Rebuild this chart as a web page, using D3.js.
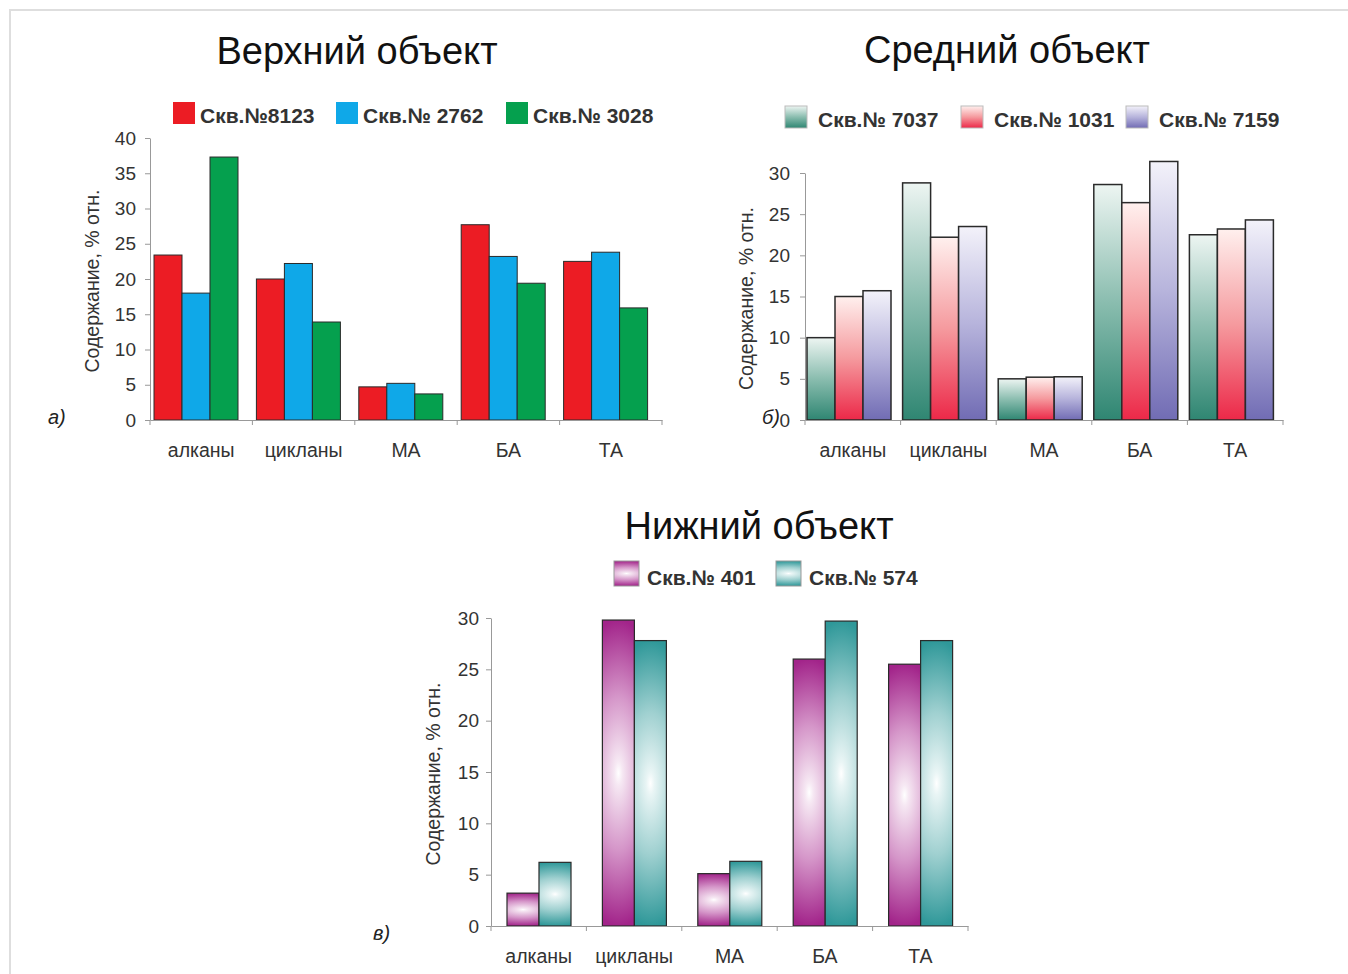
<!DOCTYPE html>
<html>
<head>
<meta charset="utf-8">
<script src="https://cdn.jsdelivr.net/npm/d3@7"></script>
<style>
  body { margin: 0; background: #fff; }
  svg text { font-family: "Liberation Sans", Arial, sans-serif; }
</style>
</head>
<body>
<svg id="chart" width="1348" height="974"></svg>
<script>
// categories shared by all three charts
const categories = ["алканы", "цикланы", "МА", "БА", "ТА"];

// upper object
const upperWells = ["Скв.№8123", "Скв.№ 2762", "Скв.№ 3028"];
const upper8123 = [23.4, 20.0, 4.7, 27.7, 22.5];
const upper2762 = [18.0, 22.2, 5.2, 23.2, 23.8];
const upper3028 = [37.3, 13.9, 3.7, 19.4, 15.9];
const upperTicks = [0, 5, 10, 15, 20, 25, 30, 35, 40];

// middle object
const middleWells = ["Скв.№ 7037", "Скв.№ 1031", "Скв.№ 7159"];
const middle7037 = [10.0, 28.8, 5.0, 28.6, 22.5];
const middle1031 = [15.0, 22.2, 5.2, 26.4, 23.2];
const middle7159 = [15.7, 23.5, 5.25, 31.4, 24.3];
const middleTicks = [0, 5, 10, 15, 20, 25, 30];

// lower object
const lowerWells = ["Скв.№ 401", "Скв.№ 574"];
const lower401 = [3.2, 29.8, 5.1, 26.0, 25.5];
const lower574 = [6.2, 27.8, 6.3, 29.7, 27.8];
const lowerTicks = [0, 5, 10, 15, 20, 25, 30];

const yLabel = "Содержание, % отн.";

const svg = d3.select("#chart");
const defs = svg.append("defs");

// page frame
svg.append("path")
  .attr("d", "M10,974 V10 H1348")
  .attr("fill", "none")
  .attr("stroke", "#dedede")
  .attr("stroke-width", 2);

// gradients for the middle chart (light top, dark bottom)
function linearGrad(id, top, mid, bottom){
  const g = defs.append("linearGradient").attr("id", id)
    .attr("x1", 0).attr("y1", 0).attr("x2", 0).attr("y2", 1);
  g.append("stop").attr("offset", "0%").attr("stop-color", top);
  g.append("stop").attr("offset", "50%").attr("stop-color", mid);
  g.append("stop").attr("offset", "100%").attr("stop-color", bottom);
  return "url(#" + id + ")";
}
// gradients for the lower chart (white glow in the middle, dark top and bottom)
function glowGrad(id, edge, mid, light){
  const g = defs.append("radialGradient").attr("id", id)
    .attr("cx", 0.5).attr("cy", 0.5).attr("r", 0.5)
    .attr("gradientTransform", "translate(0.5,0.5) scale(3.2,1) translate(-0.5,-0.5)");
  g.append("stop").attr("offset", "0%").attr("stop-color", "#ffffff");
  g.append("stop").attr("offset", "8%").attr("stop-color", light);
  g.append("stop").attr("offset", "50%").attr("stop-color", mid);
  g.append("stop").attr("offset", "100%").attr("stop-color", edge);
  return "url(#" + id + ")";
}

const charts = [
  {
    title: "Верхний объект", titleX: 357, titleY: 64,
    wells: upperWells, series: [upper8123, upper2762, upper3028],
    fills: ["#ec1c24", "#0fa8e8", "#05a04e"],
    stroke: "#2a2a2a", strokeWidth: 1,
    legendX: [173, 336, 506], legendY: 102, legendSize: 22, legendGap: 27, legendStroke: "none",
    ticks: upperTicks, domain: [0, 40],
    xRange: [150, 662], yRange: [420, 138],
    groupOffset: 4, groupWidth: 84,
    tickPad: 9, yLabelX: 99,
    mark: "а)", markX: 48, markY: 424
  },
  {
    title: "Средний объект", titleX: 1007, titleY: 63,
    wells: middleWells, series: [middle7037, middle1031, middle7159],
    fills: [linearGrad("gGreen", "#edf5f2", "#8abdaf", "#2f8672"),
            linearGrad("gRed", "#fff0ee", "#f59a9e", "#ec2848"),
            linearGrad("gPurple", "#f3f2fa", "#b7b4dc", "#716cb4")],
    stroke: "#2a2a2a", strokeWidth: 1.5,
    legendX: [785, 961, 1126], legendY: 106, legendSize: 22, legendGap: 33, legendStroke: "#bbb",
    ticks: middleTicks, domain: [0, 30],
    xRange: [805, 1283], yRange: [420, 173],
    groupOffset: 2, groupWidth: 84,
    tickPad: 10, yLabelX: 753,
    mark: "б)", markX: 762, markY: 424
  },
  {
    title: "Нижний объект", titleX: 759, titleY: 539,
    wells: lowerWells, series: [lower401, lower574],
    fills: [glowGrad("gMagenta", "#a2248a", "#d596c9", "#f6e8f3"),
            glowGrad("gTeal", "#2f9899", "#9fd0d0", "#e9f5f5")],
    stroke: "#2a2a2a", strokeWidth: 1.2,
    legendX: [614, 776], legendY: 561, legendSize: 25, legendGap: 33, legendStroke: "#999",
    ticks: lowerTicks, domain: [0, 30],
    xRange: [491, 968], yRange: [926, 618],
    groupOffset: 16, groupWidth: 64,
    tickPad: 7, yLabelX: 440,
    mark: "в)", markX: 373, markY: 940
  }
];

charts.forEach(drawChart);

function drawChart(c){
  const g = svg.append("g");

  const x0 = d3.scaleBand().domain(categories).range(c.xRange).padding(0);
  const x1 = d3.scaleBand().domain(c.wells)
    .range([c.groupOffset, c.groupOffset + c.groupWidth]).padding(0);
  const y = d3.scaleLinear().domain(c.domain).range(c.yRange);

  // title
  g.append("text")
    .attr("x", c.titleX).attr("y", c.titleY)
    .attr("text-anchor", "middle")
    .attr("font-size", 38)
    .attr("fill", "#111")
    .text(c.title);

  // legend
  c.wells.forEach((w, i) => {
    g.append("rect")
      .attr("x", c.legendX[i]).attr("y", c.legendY)
      .attr("width", c.legendSize).attr("height", c.legendSize)
      .attr("fill", c.fills[i])
      .attr("stroke", c.legendStroke);
    g.append("text")
      .attr("x", c.legendX[i] + c.legendGap)
      .attr("y", c.legendY + c.legendSize - 1)
      .attr("font-size", 21).attr("font-weight", "bold")
      .attr("fill", "#333")
      .text(w);
  });

  // bars
  c.series.forEach((vals, si) => {
    g.append("g").selectAll("rect")
      .data(vals)
      .join("rect")
      .attr("x", (d, i) => x0(categories[i]) + x1(c.wells[si]))
      .attr("y", d => y(d))
      .attr("width", x1.bandwidth())
      .attr("height", d => y(0) - y(d))
      .attr("fill", c.fills[si])
      .attr("stroke", c.stroke)
      .attr("stroke-width", c.strokeWidth);
  });

  // y axis
  const ya = g.append("g")
    .attr("transform", `translate(${c.xRange[0]},0)`)
    .call(d3.axisLeft(y).tickValues(c.ticks).tickSize(5).tickPadding(c.tickPad).tickSizeOuter(0));
  ya.select(".domain").attr("stroke", "#999");
  ya.selectAll(".tick line").attr("stroke", "#999");
  ya.selectAll("text")
    .attr("font-family", "Liberation Sans, Arial, sans-serif")
    .attr("font-size", 19).attr("fill", "#333");

  // x axis: line, slot boundary ticks and category labels
  const xa = g.append("g")
    .attr("transform", `translate(0,${c.yRange[0]})`)
    .call(d3.axisBottom(x0).tickSize(0).tickPadding(23).tickSizeOuter(0));
  xa.select(".domain").attr("stroke", "#999");
  xa.selectAll("text")
    .attr("font-family", "Liberation Sans, Arial, sans-serif")
    .attr("font-size", 19.5).attr("fill", "#333");
  const bounds = categories.map(cat => x0(cat)).concat([c.xRange[1]]);
  xa.selectAll("line.bound")
    .data(bounds)
    .join("line")
    .attr("class", "bound")
    .attr("x1", d => d).attr("x2", d => d)
    .attr("y1", 0).attr("y2", 5)
    .attr("stroke", "#999");

  // y axis title
  g.append("text")
    .attr("transform", `translate(${c.yLabelX},${(c.yRange[0] + c.yRange[1]) / 2 + 2}) rotate(-90)`)
    .attr("text-anchor", "middle")
    .attr("font-size", 19.5).attr("fill", "#333")
    .text(yLabel);

  // panel mark
  g.append("text")
    .attr("x", c.markX).attr("y", c.markY)
    .attr("font-family", "Open Sans, sans-serif")
    .attr("font-style", "italic")
    .attr("font-size", 20).attr("fill", "#222")
    .text(c.mark);
}
</script>
</body>
</html>
